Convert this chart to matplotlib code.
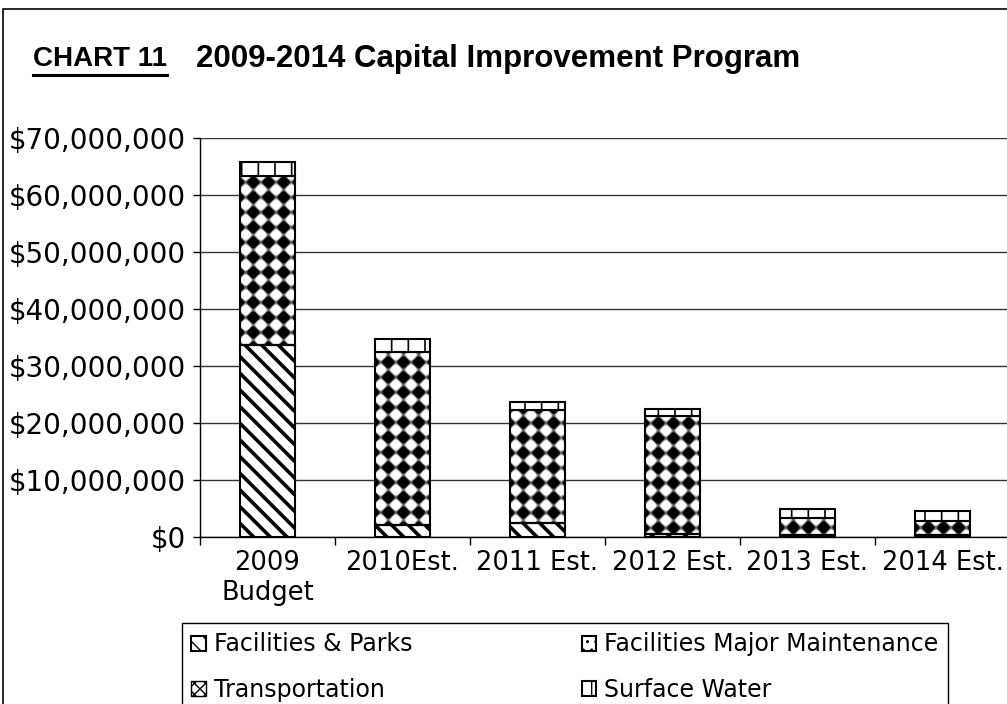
import numpy as np
import matplotlib
matplotlib.use('Agg')
import matplotlib.pyplot as plt
import matplotlib.patches as mpatches
from matplotlib.lines import Line2D
from matplotlib.ticker import FuncFormatter

# budget by year and program, dollars
years = ['2009\nBudget', '2010Est.', '2011 Est.', '2012 Est.', '2013 Est.', '2014 Est.']
facilities_parks = np.array([33.6, 2.1, 2.5, 0.6, 0.4, 0.4]) * 1e6
facilities_maint = np.array([0.0, 0.0, 0.0, 0.0, 0.0, 0.0]) * 1e6
transportation = np.array([29.7, 30.4, 19.8, 20.7, 3.0, 2.4]) * 1e6
surface_water = np.array([2.5, 2.2, 1.4, 1.2, 1.6, 1.8]) * 1e6
labels = ['Facilities & Parks', 'Transportation',
          'Facilities Major Maintenance', 'Surface Water']

W, H = 1007, 704
fig = plt.figure(figsize=(W / 100, H / 100), dpi=100)
ax = fig.add_axes([200 / W, 1 - 537 / H, 810 / W, 399 / H])

x = np.arange(len(years))
bw = 0.41
edge = dict(edgecolor='black', linewidth=1.5, zorder=3)

with plt.rc_context({'hatch.linewidth': 2.6}):
    b_fp = ax.bar(x, facilities_parks, bw, color='white', hatch='\\\\', **edge)
bottom = facilities_parks.copy()
with plt.rc_context({'hatch.linewidth': 1.0}):
    b_fm = ax.bar(x, facilities_maint, bw, bottom=bottom, color='white', hatch='..', **edge)
bottom += facilities_maint
b_tr = ax.bar(x, transportation, bw, bottom=bottom, facecolor='none', **edge)
bottom += transportation
with plt.rc_context({'hatch.linewidth': 1.2}):
    b_sw = ax.bar(x, surface_water, bw, bottom=bottom, color='white', hatch='|', **edge)

ax.set_xlim(-0.5, len(years) - 0.5)
ax.set_ylim(0, 70e6)

# diamond checker texture for transportation, clipped to each bar
pw, ph = 810, 400
jj, ii = np.meshgrid(np.arange(pw), np.arange(ph))
per = 15.0
s = np.sin(np.pi * (jj + ii) / per) * np.sin(np.pi * (jj - ii) / per)
tex = np.clip(0.6 + 2.5 * s, 0, 1)
for bar in b_tr:
    im = ax.imshow(tex, cmap='gray_r', vmin=0, vmax=1, aspect='auto',
                   extent=(-0.5, len(years) - 0.5, 0, 70e6),
                   interpolation='bilinear', zorder=2)
    im.set_clip_path(bar)
ax.set_xlim(-0.5, len(years) - 0.5)
ax.set_ylim(0, 70e6)

ax.set_yticks(np.arange(0, 70e6 + 1, 10e6))
ax.yaxis.set_major_formatter(FuncFormatter(lambda v, p: '${:,.0f}'.format(v)))
ax.yaxis.grid(True, color='#333333', linewidth=1)
ax.set_axisbelow(True)

ax.set_xticks(np.arange(-0.5, len(years), 1))
ax.set_xticklabels([])
ax.set_xticks(x, minor=True)
ax.set_xticklabels(years, minor=True)
ax.tick_params(axis='x', which='major', direction='out', length=6, width=1)
ax.tick_params(axis='x', which='minor', length=0, pad=9, labelsize=18.5)
ax.tick_params(axis='y', direction='out', length=5, width=1, pad=5, labelsize=20)

for side in ['top', 'right']:
    ax.spines[side].set_visible(False)
ax.spines['left'].set_linewidth(1)
ax.spines['bottom'].set_linewidth(1)

# legend
tr_handle = mpatches.Patch(facecolor='white', edgecolor='black', hatch='xxx')
handles = [b_fp, tr_handle, b_fm, b_sw]
leg = fig.legend(handles, labels, loc='upper left', ncol=2, mode='expand',
                 bbox_to_anchor=(182 / W, 1 - 623 / H - 0.3, 766 / W, 0.3),
                 fontsize=17, frameon=True, fancybox=False, framealpha=1,
                 edgecolor='black', handlelength=0.6, handleheight=0.6,
                 handletextpad=0.35, labelspacing=0.9, borderpad=0.4,
                 borderaxespad=0)
leg.get_frame().set_linewidth(1)

# titles
t1 = fig.text(33 / W, 1 - 66 / H, 'CHART 11', fontsize=20, fontweight='bold',
              family=['Liberation Sans'], ha='left', va='baseline')
fig.text(196 / W, 1 - 67 / H, '2009-2014 Capital Improvement Program',
         fontsize=22.5, fontweight='bold', family=['Liberation Sans'],
         ha='left', va='baseline')

fig.canvas.draw()
bb = t1.get_window_extent()
uy = (bb.y0 - 3) / H
fig.add_artist(Line2D([bb.x0 / W, bb.x1 / W], [uy, uy], color='black',
                      linewidth=2.2, transform=fig.transFigure))

# outer frame
fig.add_artist(mpatches.Rectangle((3 / W, -0.1), 1.2, 1.1 - 9 / H, fill=False,
                                  edgecolor='black', linewidth=1.2,
                                  transform=fig.transFigure, clip_on=False))

fig.savefig('out.png', dpi=100)
